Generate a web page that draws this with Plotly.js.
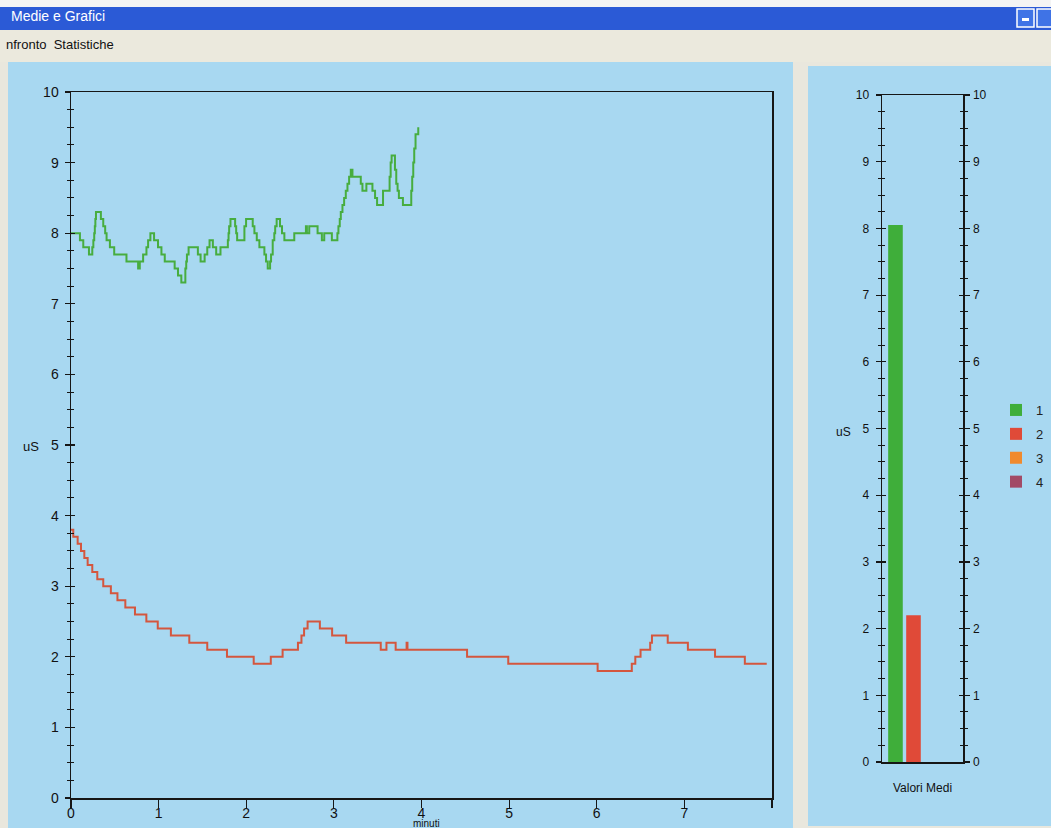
<!DOCTYPE html>
<html>
<head>
<meta charset="utf-8">
<script src="https://cdn.plot.ly/plotly-3.0.1.min.js"></script>
<style>html,body{margin:0;padding:0;background:#e9e7dd;overflow:hidden;width:1051px;height:828px;}#chart{display:block;width:1051px;height:828px;overflow:hidden;}</style>
</head>
<body>
<div id="chart"></div>
<script>
// ---- Data ----
// Series 1 (green) : time in minutes, value in uS (step changes)
const greenX = [0.000,0.102,0.140,0.205,0.243,0.255,0.265,0.272,0.278,0.285,0.341,0.368,0.390,0.406,0.444,0.493,0.633,0.766,0.785,0.823,0.861,0.880,0.906,0.948,0.993,1.032,1.070,1.183,1.221,1.259,1.305,1.315,1.323,1.342,1.448,1.479,1.525,1.555,1.581,1.619,1.657,1.706,1.790,1.798,1.805,1.820,1.873,1.885,1.896,1.979,1.998,2.074,2.093,2.120,2.150,2.207,2.226,2.245,2.272,2.283,2.302,2.320,2.330,2.347,2.385,2.408,2.435,2.548,2.681,2.692,2.719,2.814,2.863,2.890,2.977,3.040,3.052,3.067,3.079,3.098,3.117,3.136,3.155,3.174,3.193,3.212,3.307,3.326,3.371,3.440,3.470,3.493,3.561,3.636,3.648,3.659,3.697,3.712,3.727,3.742,3.788,3.883,3.894,3.906,3.917,3.932,3.963];
const greenY = [8.0,7.9,7.8,7.7,7.8,7.9,8.0,8.1,8.2,8.3,8.2,8.1,8.0,7.9,7.8,7.7,7.6,7.5,7.6,7.7,7.8,7.9,8.0,7.9,7.8,7.7,7.6,7.5,7.4,7.3,7.5,7.6,7.7,7.8,7.7,7.6,7.7,7.8,7.9,7.8,7.7,7.8,7.9,8.0,8.1,8.2,8.1,8.0,7.9,8.1,8.2,8.1,8.0,7.9,7.8,7.7,7.6,7.5,7.6,7.7,7.9,8.0,8.1,8.2,8.1,8.0,7.9,8.0,8.1,8.0,8.1,8.0,7.9,8.0,7.9,8.0,8.1,8.2,8.3,8.4,8.5,8.6,8.7,8.8,8.9,8.8,8.7,8.6,8.7,8.6,8.5,8.4,8.6,8.8,9.0,9.1,8.9,8.7,8.6,8.5,8.4,8.6,8.8,9.0,9.2,9.4,9.5];
// Series 2 (red)
const redX = [0.000,0.026,0.076,0.114,0.152,0.190,0.243,0.300,0.368,0.455,0.530,0.620,0.730,0.860,0.990,1.140,1.350,1.555,1.780,2.085,2.280,2.415,2.590,2.630,2.660,2.700,2.840,2.980,3.140,3.535,3.600,3.705,3.830,3.840,4.520,4.990,6.010,6.400,6.440,6.500,6.610,6.630,6.810,7.040,7.350,7.690,7.940];
const redY = [3.8,3.7,3.6,3.5,3.4,3.3,3.2,3.1,3.0,2.9,2.8,2.7,2.6,2.5,2.4,2.3,2.2,2.1,2.0,1.9,2.0,2.1,2.2,2.3,2.4,2.5,2.4,2.3,2.2,2.1,2.2,2.1,2.2,2.1,2.0,1.9,1.8,1.9,2.0,2.1,2.2,2.3,2.2,2.1,2.0,1.9,1.9];
// Average values (right panel)
const barCategory = ['Valori Medi'];
const seriesNames = ['1','2','3','4'];
const seriesMeans = [8.05, 2.2, 0, 0];
const seriesColors = ['#3fae3a','#e04a38','#f08a2e','#a24a66'];
const xTickVals = [0,1,2,3,4,5,6,7,8];
const xTickText = ['0','1','2','3','4','5','6','7',''];
const yTickVals = [0,1,2,3,4,5,6,7,8,9,10];

// ---- Page geometry helpers (paper = whole window, margins 0) ----
const W = 1051, H = 828;
const px = X => X / W;
const py = Y => 1 - Y / H;

const axisColor = '#161616';
const narrow = 'Liberation Sans Narrow, Arial Narrow, Liberation Sans, Arial, sans-serif';
const sans = 'Liberation Sans, Arial, sans-serif';

const traces = [
  {x: greenX, y: greenY, type: 'scatter', mode: 'lines', line: {shape: 'hv', color: '#47ad3f', width: 2}, xaxis: 'x', yaxis: 'y', showlegend: false, hoverinfo: 'x+y'},
  {x: redX, y: redY, type: 'scatter', mode: 'lines', line: {shape: 'hv', color: '#d4563e', width: 2}, xaxis: 'x', yaxis: 'y', showlegend: false, hoverinfo: 'x+y'},
  {x: [], y: [], type: 'scatter', xaxis: 'x', yaxis: 'y3', showlegend: false, hoverinfo: 'skip'},
  {x: [], y: [], type: 'scatter', xaxis: 'x2', yaxis: 'y4', showlegend: false, hoverinfo: 'skip'},
  {x: [], y: [], type: 'scatter', xaxis: 'x2', yaxis: 'y5', showlegend: false, hoverinfo: 'skip'},
  {x: [], y: [], type: 'scatter', xaxis: 'x2', yaxis: 'y6', showlegend: false, hoverinfo: 'skip'}
];
seriesNames.forEach((n, i) => {
  traces.push({x: barCategory, y: [seriesMeans[i]], type: 'bar', name: n, legendgroup: 'g' + n,
    marker: {color: seriesColors[i]}, xaxis: 'x2', yaxis: 'y2'});
});

const yCommon = {range: [0, 10], showgrid: false, zeroline: false, fixedrange: true};
const layout = {
  width: W, height: H, autosize: false,
  margin: {l: 0, r: 0, t: 0, b: 0, pad: 0},
  paper_bgcolor: '#e9e7dd',
  plot_bgcolor: 'rgba(0,0,0,0)',
  showlegend: true,
  barmode: 'group', bargap: 0.11, bargroupgap: 0.19,
  legend: {x: px(996), y: py(395), xanchor: 'left', yanchor: 'top', bgcolor: 'rgba(0,0,0,0)',
    font: {family: sans, size: 13, color: '#222'}, tracegroupgap: 4, itemwidth: 30},
  xaxis: {domain: [px(71), px(772)], range: [0, 8], anchor: 'y', tickvals: xTickVals, ticktext: xTickText,
    showline: true, linecolor: axisColor, linewidth: 1.5, mirror: true, ticks: 'outside', ticklen: 8,
    tickcolor: axisColor, tickwidth: 1.2, showgrid: false, zeroline: false, ticklabelstandoff: -6,
    tickfont: {family: narrow, size: 14, color: '#111'}},
  yaxis: Object.assign({}, yCommon, {domain: [py(798), py(92)], anchor: 'x', tickvals: yTickVals,
    showline: true, linecolor: axisColor, linewidth: 1.5, mirror: true, ticks: 'outside', ticklen: 5,
    tickcolor: axisColor, tickwidth: 1.2, ticklabelstandoff: 3,
    minor: {dtick: 0.25, ticks: 'outside', ticklen: 3, tickcolor: axisColor, tickwidth: 1},
    tickfont: {family: narrow, size: 14, color: '#111'}}),
  yaxis3: Object.assign({}, yCommon, {overlaying: 'y', anchor: 'x', side: 'left', tickvals: yTickVals,
    ticks: 'inside', ticklen: 4, tickcolor: axisColor, tickwidth: 1.2, showticklabels: false, showline: false,
    minor: {dtick: 0.25, ticks: 'inside', ticklen: 3, tickcolor: axisColor, tickwidth: 1}}),
  xaxis2: {domain: [px(882), px(963)], anchor: 'y2', type: 'category', showline: true, linecolor: axisColor,
    linewidth: 1.5, mirror: true, ticks: '', showgrid: false, zeroline: false, fixedrange: true,
    ticklabelstandoff: 14, tickfont: {family: sans, size: 12, color: '#111'}},
  yaxis2: Object.assign({}, yCommon, {domain: [py(762), py(95)], anchor: 'x2', side: 'left', tickvals: yTickVals,
    showline: true, linecolor: axisColor, linewidth: 1.5, ticks: 'outside', ticklen: 5, tickcolor: axisColor,
    tickwidth: 1.2, ticklabelstandoff: 4,
    minor: {dtick: 0.25, ticks: 'outside', ticklen: 3, tickcolor: axisColor, tickwidth: 1},
    tickfont: {family: sans, size: 12, color: '#111'}}),
  yaxis4: Object.assign({}, yCommon, {overlaying: 'y2', anchor: 'x2', side: 'right', tickvals: yTickVals,
    showline: true, linecolor: axisColor, linewidth: 1.5, ticks: 'outside', ticklen: 5, tickcolor: axisColor,
    tickwidth: 1.2, ticklabelstandoff: 1,
    minor: {dtick: 0.25, ticks: 'outside', ticklen: 3, tickcolor: axisColor, tickwidth: 1},
    tickfont: {family: sans, size: 12, color: '#111'}}),
  yaxis5: Object.assign({}, yCommon, {overlaying: 'y2', anchor: 'x2', side: 'left', tickvals: yTickVals,
    ticks: 'inside', ticklen: 4, tickcolor: axisColor, tickwidth: 1.2, showticklabels: false, showline: false,
    minor: {dtick: 0.25, ticks: 'inside', ticklen: 3, tickcolor: axisColor, tickwidth: 1}}),
  yaxis6: Object.assign({}, yCommon, {overlaying: 'y2', anchor: 'x2', side: 'right', tickvals: yTickVals,
    ticks: 'inside', ticklen: 4, tickcolor: axisColor, tickwidth: 1.2, showticklabels: false, showline: false,
    minor: {dtick: 0.25, ticks: 'inside', ticklen: 3, tickcolor: axisColor, tickwidth: 1}}),
  shapes: [
    // window title bar
    {type: 'rect', xref: 'paper', yref: 'paper', x0: 0, x1: 1, y0: py(30), y1: py(7), fillcolor: '#2b5ad6', line: {width: 0}, layer: 'below'},
    {type: 'rect', xref: 'paper', yref: 'paper', x0: 0, x1: 1, y0: py(7), y1: 1, fillcolor: '#f4f4f4', line: {width: 0}, layer: 'below'},
    // menu bar
    {type: 'rect', xref: 'paper', yref: 'paper', x0: 0, x1: 1, y0: py(62), y1: py(30), fillcolor: '#ebe9dd', line: {width: 0}, layer: 'below'},
    // title bar buttons
    {type: 'rect', xref: 'paper', yref: 'paper', x0: px(1017), x1: px(1034), y0: py(27), y1: py(9), fillcolor: '#3f73e6', line: {width: 1.5, color: '#ffffff'}, layer: 'below'},
    {type: 'rect', xref: 'paper', yref: 'paper', x0: px(1022), x1: px(1029), y0: py(21), y1: py(18), fillcolor: '#ffffff', line: {width: 0}, layer: 'below'},
    {type: 'rect', xref: 'paper', yref: 'paper', x0: px(1037), x1: px(1054), y0: py(27), y1: py(9), fillcolor: '#3f73e6', line: {width: 1.5, color: '#ffffff'}, layer: 'below'},
    // left panel
    {type: 'rect', xref: 'paper', yref: 'paper', x0: px(8), x1: px(793), y0: 0, y1: py(62), fillcolor: '#a8d8f1', line: {width: 0}, layer: 'below'},
    // right panel
    {type: 'rect', xref: 'paper', yref: 'paper', x0: px(808), x1: 1, y0: py(826), y1: py(66), fillcolor: '#a8d8f1', line: {width: 0}, layer: 'below'}
  ],
  annotations: [
    {text: 'Medie e Grafici', xref: 'paper', yref: 'paper', x: px(9), y: py(16), xanchor: 'left', yanchor: 'middle', showarrow: false, font: {family: sans, size: 14, color: '#ffffff'}},
    {text: 'nfronto&nbsp;&nbsp;Statistiche', xref: 'paper', yref: 'paper', x: px(4), y: py(44), xanchor: 'left', yanchor: 'middle', showarrow: false, font: {family: narrow, size: 13, color: '#111'}},
    {text: 'minuti', xref: 'paper', yref: 'paper', x: px(426), y: py(823), xanchor: 'center', yanchor: 'middle', showarrow: false, font: {family: narrow, size: 10, color: '#111'}},
    {text: 'uS', xref: 'paper', yref: 'paper', x: px(31), y: py(447), xanchor: 'center', yanchor: 'middle', showarrow: false, font: {family: narrow, size: 13, color: '#111'}},
    {text: 'uS', xref: 'paper', yref: 'paper', x: px(843), y: py(432), xanchor: 'center', yanchor: 'middle', showarrow: false, font: {family: sans, size: 12, color: '#111'}}
  ]
};

Plotly.newPlot('chart', traces, layout, {displayModeBar: false, staticPlot: true});
</script>
</body>
</html>
